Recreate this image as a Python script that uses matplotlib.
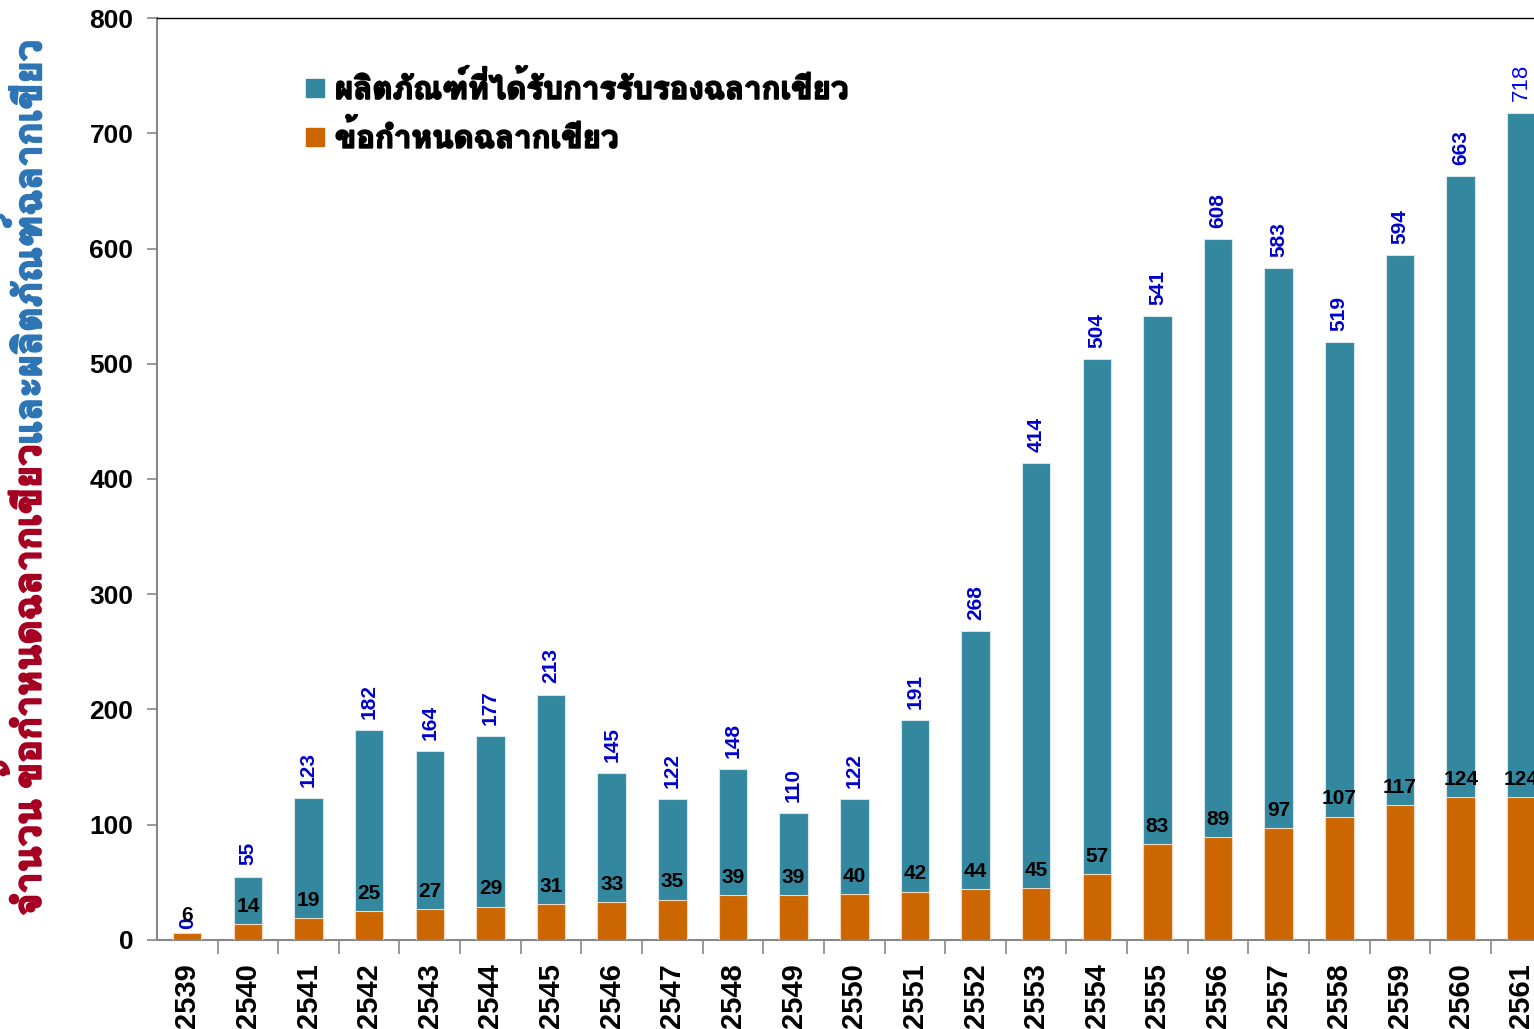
import matplotlib
matplotlib.use("Agg")
import matplotlib.pyplot as plt
import matplotlib.patheffects as pe
from matplotlib import font_manager
from matplotlib.ft2font import FT2Font
from matplotlib.lines import Line2D

# data
years = ["2539", "2540", "2541", "2542", "2543", "2544", "2545", "2546",
         "2547", "2548", "2549", "2550", "2551", "2552", "2553", "2554",
         "2555", "2556", "2557", "2558", "2559", "2560", "2561"]
products = [0, 55, 123, 182, 164, 177, 213, 145, 122, 148, 110, 122, 191,
            268, 414, 504, 541, 608, 583, 519, 594, 663, 718]
criteria = [6, 14, 19, 25, 27, 29, 31, 33, 35, 39, 39, 40, 42, 44, 45, 57,
            83, 89, 97, 107, 117, 124, 124]

label_products = "ผลิตภัณฑ์ที่ได้รับการรับรองฉลากเขียว"
label_criteria = "ข้อกำหนดฉลากเขียว"
ylabel_red = "จำนวน ข้อกำหนดฉลากเขียว"
ylabel_blue = "และผลิตภัณฑ์ฉลากเขียว"

TEAL = "#33879f"
ORANGE = "#cc6600"


def thai_family():
    # pick any installed font that actually has Thai glyphs
    for f in font_manager.fontManager.ttflist:
        try:
            if 0x0E01 in FT2Font(f.fname).get_charmap():
                return f.name
        except Exception:
            pass
    return None


thai = thai_family()
fams = ["Liberation Sans", "DejaVu Sans"]
if thai:
    fams = ["Liberation Sans", thai, "DejaVu Sans"]
plt.rcParams["font.family"] = fams


def heavy(color, w=1.2):
    # fake a heavier weight for the Thai text
    return [pe.withStroke(linewidth=w, foreground=color)]


fig = plt.figure(figsize=(15.34, 10.29), dpi=100)
ax = fig.add_axes([0.1023, 0.0865, 0.8977, 0.896])

x = list(range(len(years)))
ax.bar(x, products, width=0.47, color=TEAL, edgecolor="#d6e6ec",
       linewidth=0.8, zorder=2)
ax.bar(x, criteria, width=0.47, color=ORANGE, edgecolor="#f0d8c0",
       linewidth=0.8, zorder=3)

# value labels
for i, (p, c) in enumerate(zip(products, criteria)):
    last = i == len(years) - 1
    ax.annotate(str(p), (i, p), xytext=(0, 8), textcoords="offset points",
                rotation=90, ha="center", va="bottom",
                fontsize=16 if last else 15,
                fontweight="normal" if last else "bold",
                color="#0000ff" if last else "#0000cc", zorder=5,
                annotation_clip=False)
    ax.annotate(str(c), (i, c), xytext=(0, 6), textcoords="offset points",
                ha="center", va="bottom", fontsize=15, fontweight="bold",
                color="black", zorder=6, annotation_clip=False)

ax.set_yticks(range(0, 801, 100))
ax.tick_params(axis="y", labelsize=19, color="#888888", length=7, width=1.2,
               pad=10)
for t in ax.get_yticklabels():
    t.set_fontweight("bold")

ax.set_xticks(x)
ax.set_xticklabels(years, rotation=90, fontsize=21, fontweight="bold")
ax.tick_params(axis="x", length=0, pad=17)
ax.set_xticks([i + 0.5 for i in x], minor=True)
ax.tick_params(axis="x", which="minor", length=10, color="#888888", width=1.2)

# limits after the ticks, so the minor ticks don't widen the view
ax.set_xlim(-0.5, 22.21)
ax.set_ylim(0, 800)

for side in ("left", "bottom"):
    ax.spines[side].set_color("#888888")
    ax.spines[side].set_linewidth(1.5)
ax.spines["top"].set_color("black")
ax.spines["top"].set_linewidth(1.0)
ax.spines["right"].set_visible(False)

handles = [Line2D([], [], marker="s", linestyle="none", markersize=13,
                  color=TEAL),
           Line2D([], [], marker="s", linestyle="none", markersize=13,
                  color=ORANGE)]
leg = ax.legend(handles, [label_products, label_criteria], loc="upper left",
                bbox_to_anchor=(0.085, 0.973), frameon=False,
                handletextpad=0.25, handlelength=0.8, labelspacing=0.45,
                prop={"size": 22.5, "weight": "bold"})
for t in leg.get_texts():
    t.set_path_effects(heavy("black", 1.3))

# two-colour y label: red part from the bottom, blue part continues upward
red = fig.text(0.019, 0.11, ylabel_red, rotation=90, ha="center",
               va="bottom", fontsize=27.3, fontweight="bold", color="#a50021",
               path_effects=heavy("#a50021", 1.5))
fig.canvas.draw()
bb = red.get_window_extent(fig.canvas.get_renderer())
top = bb.y1 / fig.bbox.height
fig.text(0.019, top, ylabel_blue, rotation=90, ha="center", va="bottom",
         fontsize=27.3, fontweight="bold", color="#2e75b6",
         path_effects=heavy("#2e75b6", 1.5))

fig.savefig("out.png", dpi=100, facecolor="white")
